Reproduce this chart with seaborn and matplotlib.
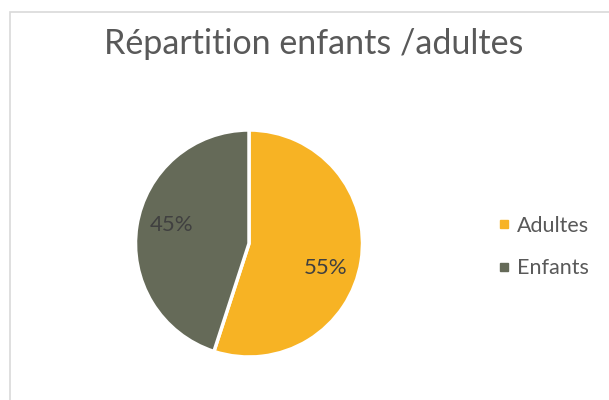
import matplotlib
matplotlib.use("Agg")
import matplotlib.pyplot as plt
import seaborn as sns
from matplotlib.patches import Rectangle
from matplotlib.lines import Line2D

sns.set_theme(style="white")
plt.rcParams['font.family'] = ['Lato', 'DejaVu Sans']

# Data
categories = ["Adultes", "Enfants"]
shares = [55, 45]
colors = ["#F7B324", "#656A58"]
title = "Répartition enfants /adultes"

fig = plt.figure(figsize=(6.09, 4.00), dpi=100)

# Chart frame (light grey border running off the right and bottom edges)
frame = Rectangle((10 / 609, -0.05), 1.2, (400 - 11.5) / 400 + 0.05,
                  transform=fig.transFigure, fill=False,
                  edgecolor="#D9D9D9", linewidth=1.2)
fig.patches.append(frame)

R = 113.5
ax = fig.add_axes([(249 - R) / 609, (400 - 243.5 - R) / 400, 2 * R / 609, 2 * R / 400])
wedges, texts, autotexts = ax.pie(
    shares, colors=colors, startangle=90, counterclock=False,
    autopct="%d%%", pctdistance=0.72,
    wedgeprops=dict(edgecolor="white", linewidth=2.5),
    textprops=dict(color="#404040", fontsize=16),
)
ax.set_xlim(-1, 1)
ax.set_ylim(-1, 1)
ax.set_aspect("equal")

# Small nudges of the percentage labels inside their wedges
nudges = [(-0.04, -0.10), (0.03, 0.05)]
for t, (dx, dy) in zip(autotexts, nudges):
    x, y = t.get_position()
    t.set_position((x + dx, y + dy))

fig.text(314 / 609, 1 - 44 / 400, title, ha="center", va="center",
         fontsize=24.5, color="#595959")

handles = [Line2D([0], [0], marker="s", linestyle="none", markersize=6,
                  markerfacecolor=c, markeredgecolor=c) for c in colors]
fig.legend(handles, categories, loc="center left",
           bbox_to_anchor=(474 / 609, 1 - 247 / 400), frameon=False,
           fontsize=15.5, labelcolor="#595959", handletextpad=0.1,
           labelspacing=1.05, handlelength=1.0)

fig.savefig("out.png", dpi=100, facecolor="white")
